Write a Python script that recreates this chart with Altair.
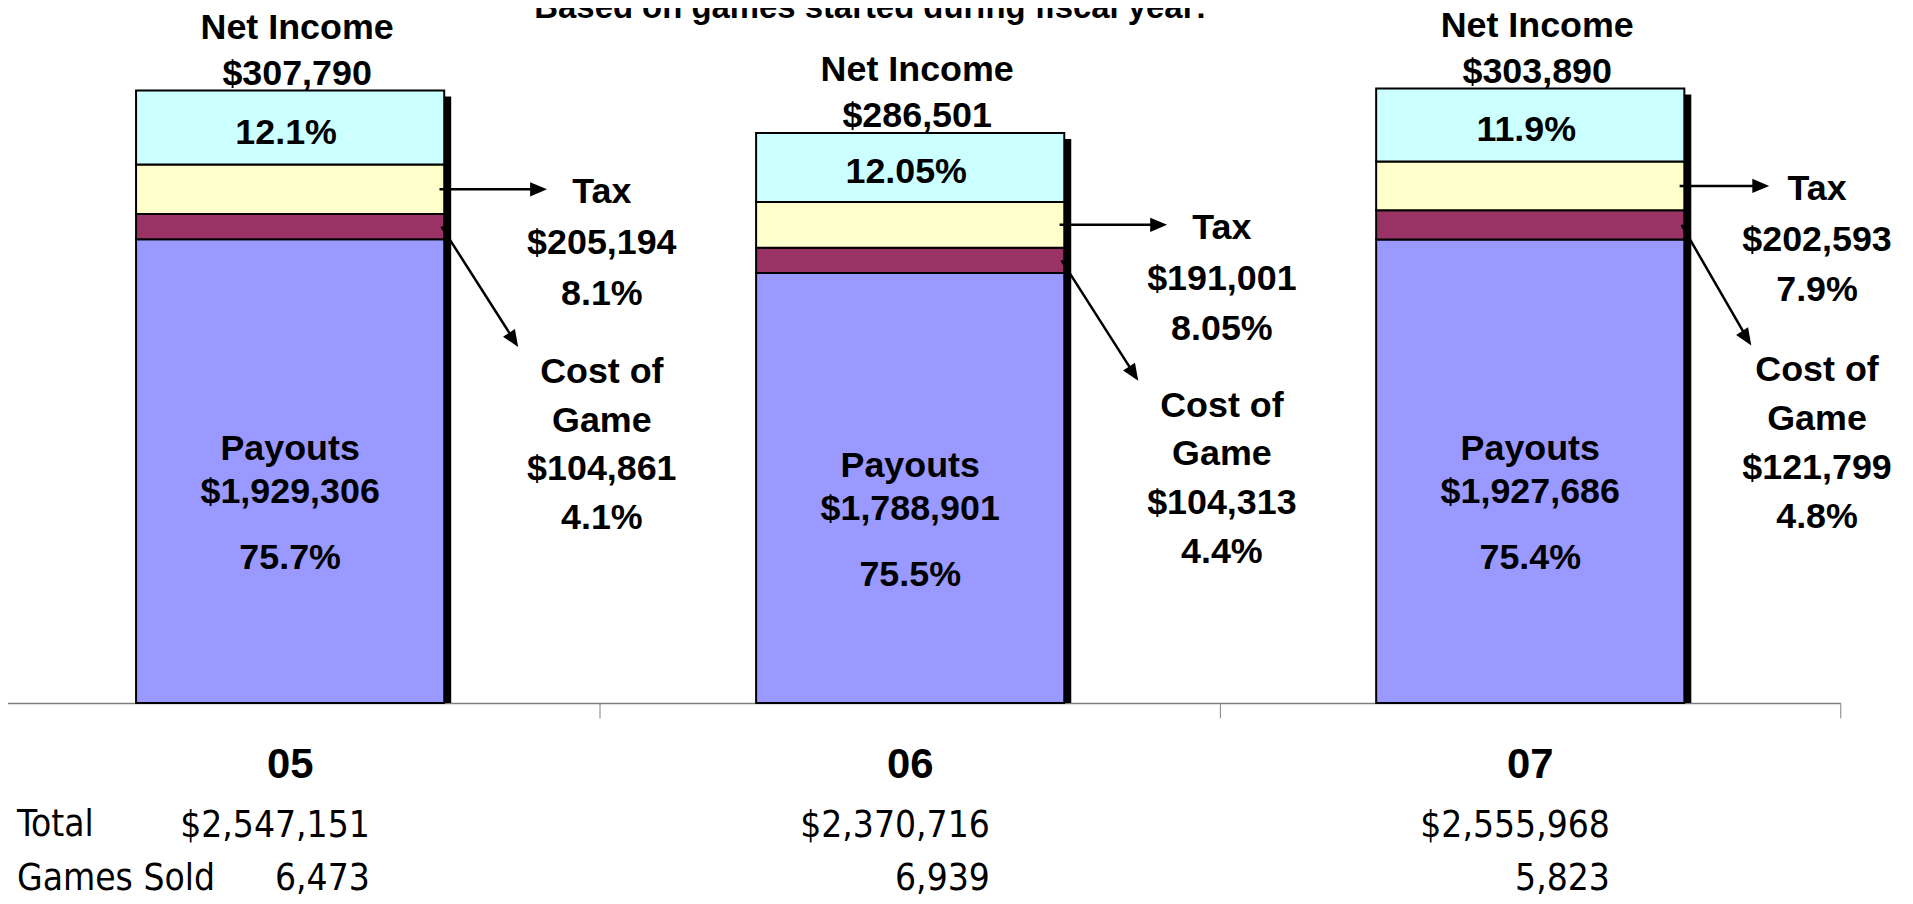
import altair as alt
import pandas as pd

# ---------------- data ----------------
years = ["05", "06", "07"]
payouts = [1929306, 1788901, 1927686]
cost_of_game = [104861, 104313, 121799]
tax = [205194, 191001, 202593]
net_income = [307790, 286501, 303890]
totals = [2547151, 2370716, 2555968]
games_sold = [6473, 6939, 5823]
payout_pct = ["75.7%", "75.5%", "75.4%"]
cost_pct = ["4.1%", "4.4%", "4.8%"]
tax_pct = ["8.1%", "8.05%", "7.9%"]
net_pct = ["12.1%", "12.05%", "11.9%"]
categories = ["Payouts", "Cost of Game", "Tax", "Net Income"]
colors = ["#9999FF", "#993366", "#FFFFCC", "#CCFFFF"]
title_text = "Based on games started during fiscal year:"
row_headers = ["Total", "Games Sold"]


def money(v):
    return f"${v:,}"


seg_rows = []
rows = []
for i, yr in enumerate(years):
    vals = [payouts[i], cost_of_game[i], tax[i], net_income[i]]
    start = 0
    mids = {}
    for k, (cat, v) in enumerate(zip(categories, vals)):
        seg_rows.append(dict(year=yr, cat=cat, start=start, end=start + v, order=k))
        mids[cat] = start + v / 2
        start += v
    rows.append(dict(
        year=yr, total=totals[i], zero=0,
        pay_mid=mids["Payouts"], cost_mid=mids["Cost of Game"],
        tax_mid=mids["Tax"], net_mid=mids["Net Income"],
        net_label=f"Net Income\n{money(net_income[i])}",
        net_pct=net_pct[i],
        pay_label=f"Payouts\n{money(payouts[i])}",
        pay_pct=payout_pct[i],
        tax_label=f"Tax\n{money(tax[i])}\n{tax_pct[i]}",
        cost_label=f"Cost of\nGame\n{money(cost_of_game[i])}\n{cost_pct[i]}",
        total_label=money(totals[i]),
        games_label=f"{games_sold[i]:,}",
    ))

sdf = pd.DataFrame(seg_rows)
tdf = pd.DataFrame(rows)
hdf = pd.DataFrame({"label": [title_text]})

# ---------------- layout / style ----------------
W, H = 1832, 696
FONT = "Liberation Sans, Arial, Helvetica, sans-serif"
NARROW = "Liberation Sans Narrow, Arial Narrow, DejaVu Sans Condensed, Liberation Sans, sans-serif"
BAR_W = alt.RelativeBandSize(0.497)
ARROW = "M0,0L-1,-0.42L-1,0.42Z"
HEAD = 1156
OUT_DX = 313        # side labels, right of the bar
EDGE_DX = 288       # side labels of the last bar, pulled in to stay on the page
last_year = years[-1]

xscale = alt.Scale(range=[-28, 1840], paddingInner=0, paddingOuter=0)
yscale = alt.Scale(domain=[0, 2883000], nice=False, zero=True)
xaxis = alt.Axis(title=None, labels=False, bandPosition=1, domainColor="#808080",
                 domainWidth=1.5, tickColor="#808080", tickWidth=1, tickSize=15,
                 grid=False)
X = alt.X("year:N", scale=xscale, axis=xaxis, sort=years)


def Y(field):
    return alt.Y(f"{field}:Q", scale=yscale, axis=None)


bt = alt.Chart(tdf)
not_last = alt.datum.year != last_year
is_last = alt.datum.year == last_year

shadow = bt.mark_bar(color="black", width=BAR_W, xOffset=7, x2Offset=7,
                     yOffset=6, y2Offset=6, clip=True).encode(
    x=X, y=Y("total"), y2=alt.Y2("zero"))

bars = alt.Chart(sdf).mark_bar(stroke="black", strokeWidth=2, width=BAR_W).encode(
    x=X, y=Y("end"), y2=alt.Y2("start"),
    color=alt.Color("cat:N", scale=alt.Scale(domain=categories, range=colors), legend=None),
)


def label(field, yfield, dx=0, dy=0, lh=47, size=36, flt=None, **kw):
    # first line sits at the anchor; following lines go down by lh
    c = bt
    if flt is not None:
        c = c.transform_filter(flt)
    return c.mark_text(font=FONT, fontSize=size, fontWeight="bold", lineBreak="\n",
                       lineHeight=lh, baseline="middle", dx=dx, dy=dy, color="black",
                       **kw).encode(x=X, y=Y(yfield), text=f"{field}:N")


net_lbl = label("net_label", "total", dx=7, dy=-63, lh=46)
net_pct_lbl = label("net_pct", "net_mid", dx=-4, dy=5)
pay_lbl = label("pay_label", "pay_mid", dx=0, dy=-22, lh=43)
pay_pct_lbl = label("pay_pct", "pay_mid", dx=0, dy=87)
tax_lbl = label("tax_label", "tax_mid", dx=OUT_DX, dy=3, lh=51, flt=not_last)
tax_lbl_edge = label("tax_label", "tax_mid", dx=EDGE_DX, dy=3, lh=51, flt=is_last)
cost_lbl = label("cost_label", "cost_mid", dx=OUT_DX, dy=146, lh=49, flt=not_last)
cost_lbl_edge = label("cost_label", "cost_mid", dx=EDGE_DX, dy=146, lh=49, flt=is_last)


def tax_arrow_layers(tip, flt):
    c = bt.transform_filter(flt)
    line = c.mark_rule(color="black", strokeWidth=2.5, xOffset=150, x2Offset=tip - 4).encode(
        x=X, x2=alt.X2("year"), y=Y("tax_mid"))
    head = c.mark_point(shape=ARROW, size=HEAD, filled=True, color="black", opacity=1,
                        strokeWidth=0, xOffset=tip).encode(x=X, y=Y("tax_mid"))
    return [line, head]


def cost_arrow_layers(tipx, tipy, flt):
    c = bt.transform_filter(flt)
    line = c.mark_rule(color="black", strokeWidth=2.5, xOffset=152, x2Offset=tipx - 3,
                       y2Offset=tipy - 5).encode(
        x=X, x2=alt.X2("year"), y=Y("cost_mid"), y2=alt.Y2("cost_mid"))
    head = c.mark_point(shape=ARROW, size=HEAD, filled=True, color="black", opacity=1,
                        strokeWidth=0, xOffset=tipx, yOffset=tipy, angle=57).encode(
        x=X, y=Y("cost_mid"))
    return [line, head]


arrows = (tax_arrow_layers(258, not_last) + tax_arrow_layers(240, is_last)
          + cost_arrow_layers(229, 121, not_last) + cost_arrow_layers(222, 121, is_last))

year_lbl = bt.mark_text(font=FONT, fontSize=42, fontWeight="bold", baseline="middle",
                        dy=62, color="black").encode(x=X, y=Y("zero"), text="year:N")
total_lbl = bt.mark_text(font=NARROW, fontSize=37, align="right", baseline="middle",
                         dx=80, dy=124, color="black").encode(
    x=X, y=Y("zero"), text="total_label:N")
games_lbl = bt.mark_text(font=NARROW, fontSize=37, align="right", baseline="middle",
                         dx=80, dy=177, color="black").encode(
    x=X, y=Y("zero"), text="games_label:N")

hdr_total = alt.Chart(pd.DataFrame({"label": [row_headers[0]], "zero": [0]})).mark_text(
    font=NARROW, fontSize=37, align="left", baseline="middle", dy=123, color="black").encode(
    x=alt.value(9), y=Y("zero"), text="label:N")
hdr_games = alt.Chart(pd.DataFrame({"label": [row_headers[1]], "zero": [0]})).mark_text(
    font=NARROW, fontSize=37, align="left", baseline="middle", dy=177, color="black").encode(
    x=alt.value(9), y=Y("zero"), text="label:N")

title = alt.Chart(hdf).mark_text(font=FONT, fontSize=33, fontWeight="bold",
                                 baseline="alphabetic", align="center", color="black").encode(
    x=alt.value(866), y=alt.value(8), text="label:N")

chart = alt.layer(
    shadow, bars, net_lbl, net_pct_lbl, pay_lbl, pay_pct_lbl, tax_lbl, tax_lbl_edge,
    cost_lbl, cost_lbl_edge, *arrows, year_lbl,
    total_lbl, games_lbl, hdr_total, hdr_games, title,
).properties(
    width=W, height=H,
    autosize=alt.AutoSizeParams(type="none"),
    padding={"left": 0, "top": 0, "right": 73, "bottom": 200},
).configure_view(stroke=None)

chart.save("out.html", embed_options={"renderer": "svg", "actions": False})
